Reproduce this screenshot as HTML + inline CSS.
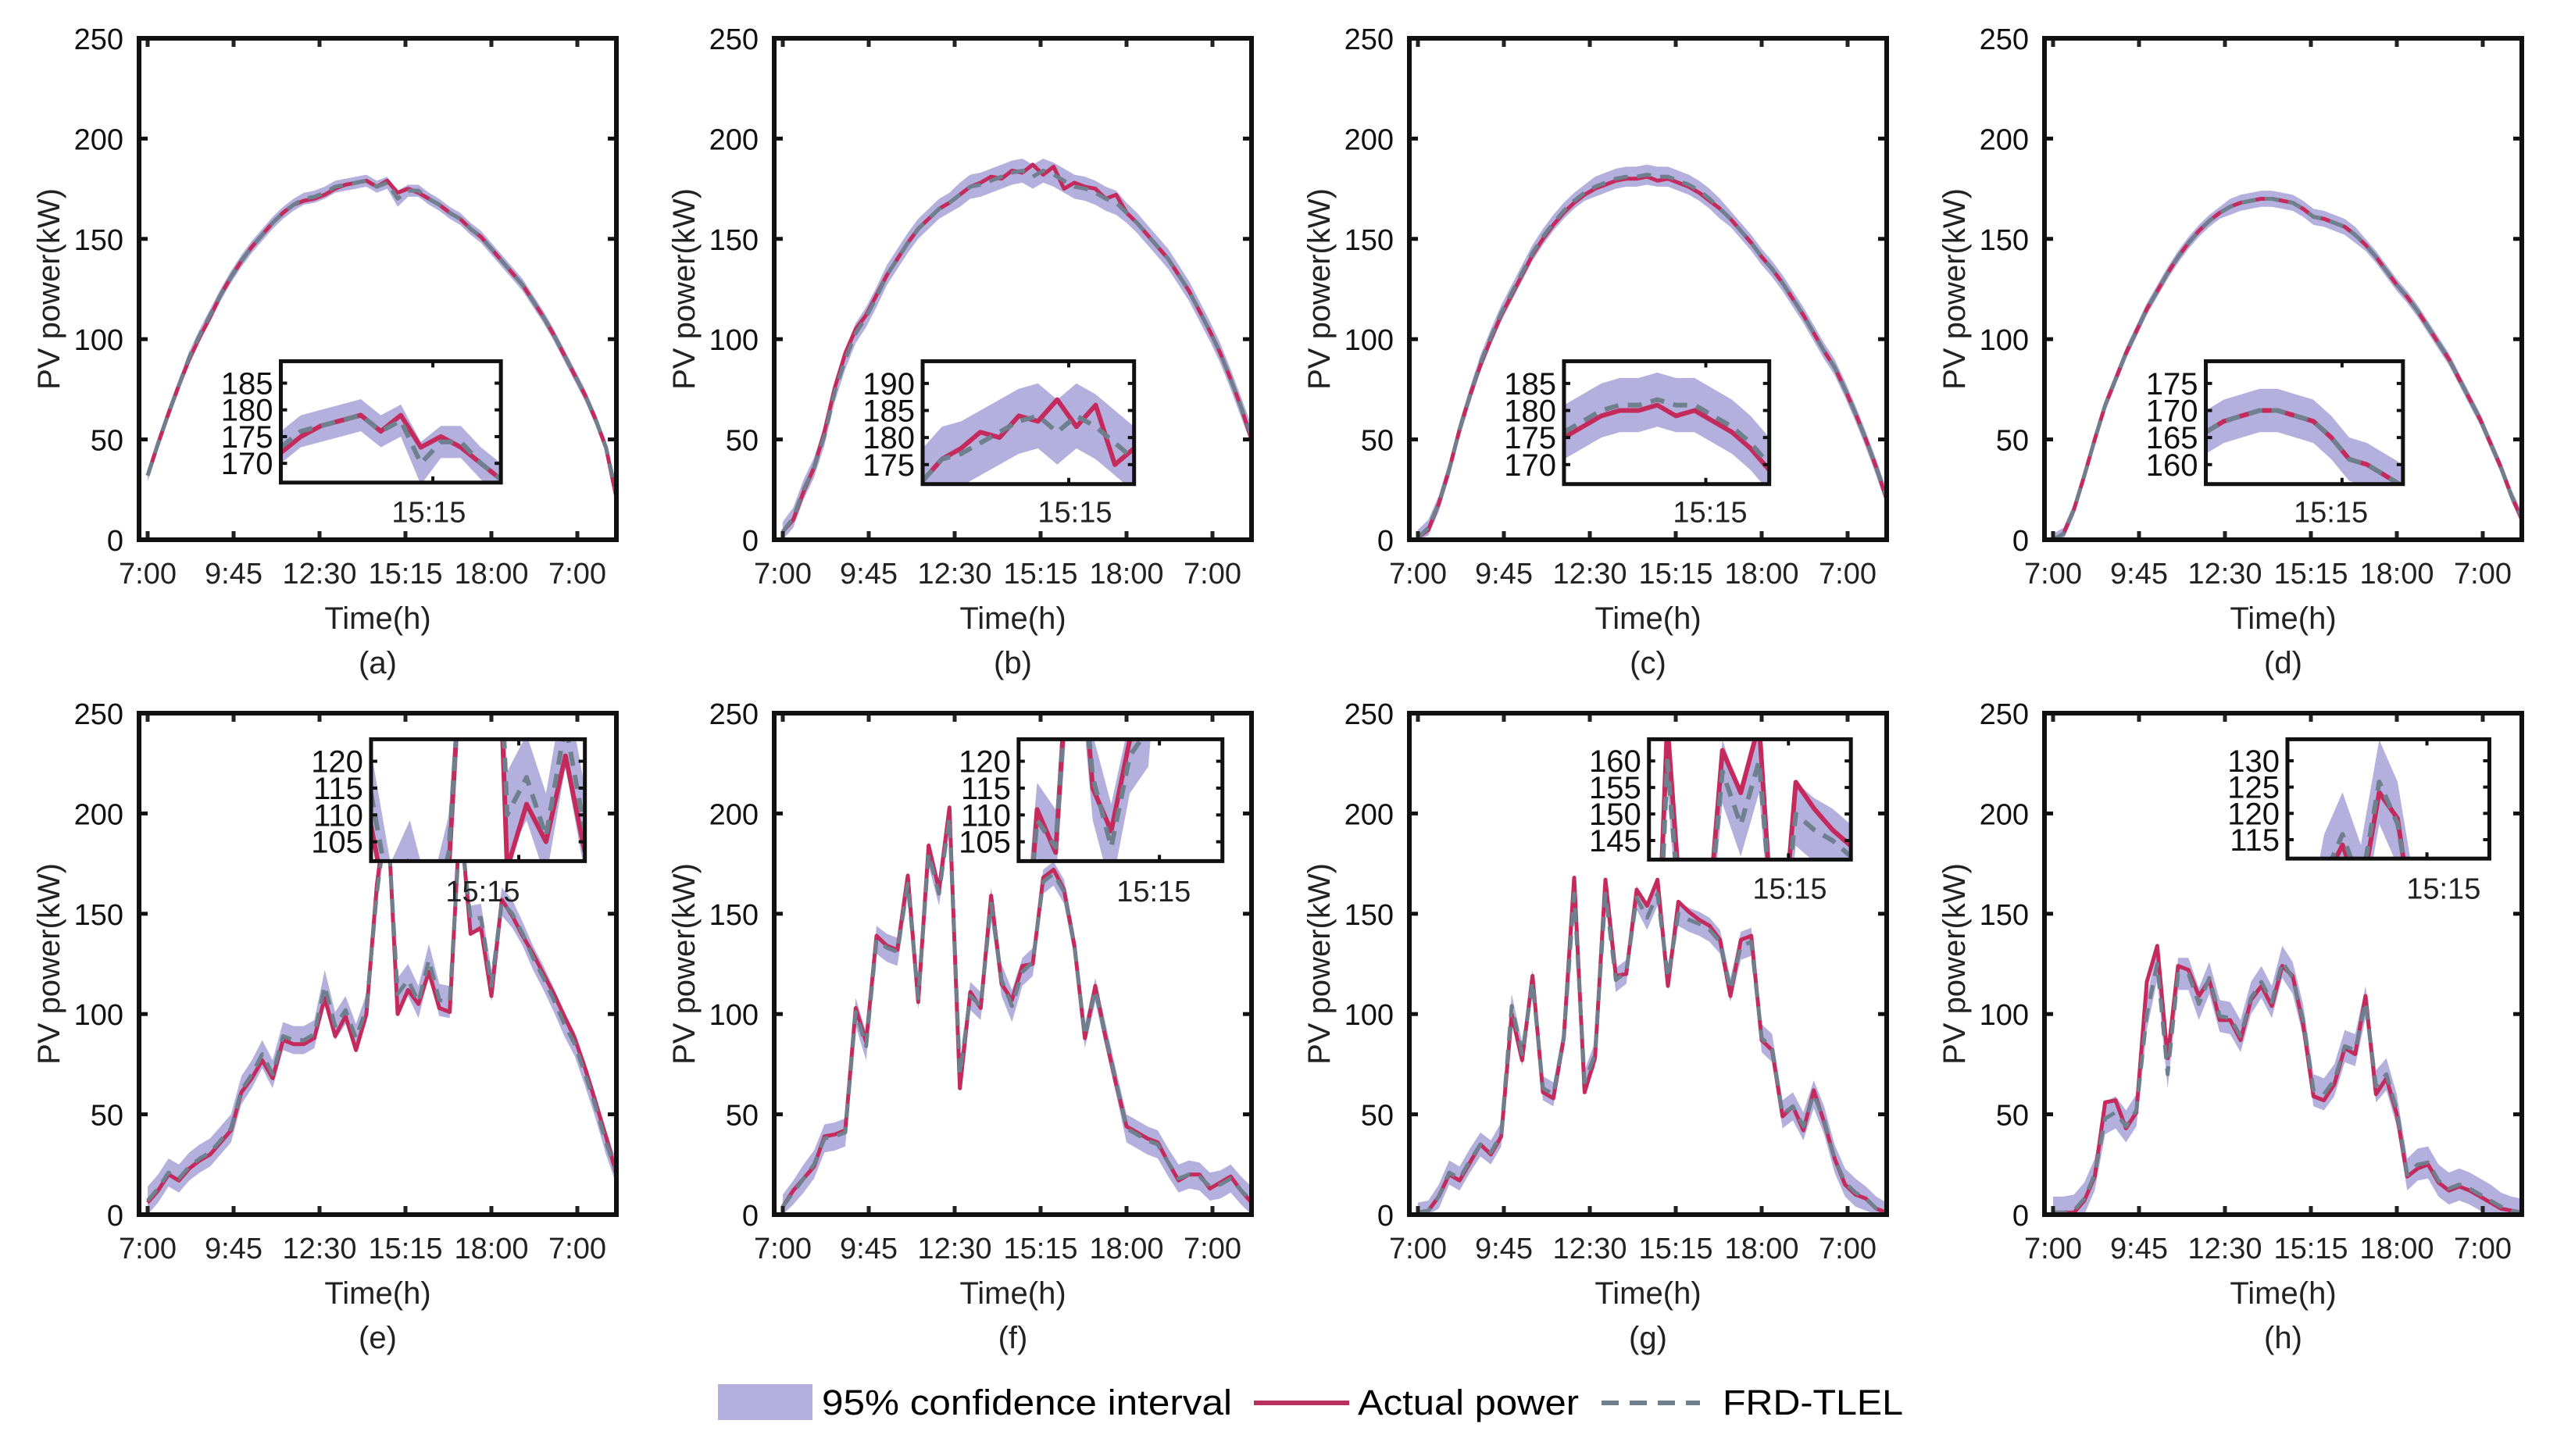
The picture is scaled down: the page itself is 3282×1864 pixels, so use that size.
<!DOCTYPE html>
<html><head><meta charset="utf-8"><style>
html,body{margin:0;padding:0;background:#fff;}
svg{display:block;font-family:"Liberation Sans",Arial,sans-serif;}
</style></head><body>
<svg id="fig" width="3282" height="1864" viewBox="0 0 3282 1864" xmlns="http://www.w3.org/2000/svg">
<rect width="3282" height="1864" fill="#fff"/>
<defs id="defs"></defs>
<g id="panels"></g>
<g id="legend">
  <rect x="919" y="1772" width="121" height="46" fill="#b3b0dd"/>
  <text x="1052" y="1811" font-size="45" textLength="525" lengthAdjust="spacingAndGlyphs">95% confidence interval</text>
  <line x1="1605" y1="1796" x2="1727" y2="1796" stroke="#b8305e" stroke-width="6"/>
  <text x="1738" y="1811" font-size="45" textLength="283" lengthAdjust="spacingAndGlyphs">Actual power</text>
  <line x1="2050" y1="1796" x2="2176" y2="1796" stroke="#6e7f8d" stroke-width="6" stroke-dasharray="22 14"/>
  <text x="2205" y="1811" font-size="45" textLength="231" lengthAdjust="spacingAndGlyphs">FRD-TLEL</text>
</g>
</svg>
<script>
const tickLabels = ["7:00","9:45","12:30","15:15","18:00","7:00"];
const yTicks = [0,50,100,150,200,250];
const panelLetters = ["a","b","c","d","e","f","g","h"];
const actualA = [32,48,63,77,90,101,111,122,131,139,146,152,158,163,167,169,170,172,175,177,178,179,176,179,173,175,173,170,167,163,160,155,151,145,139,133,127,119,111,102,92,82,72,60,46,21];
const predA = [32,48,63,77,91,102,112,122,131,139,146,152,158,163,167,170,171,173,176,177,178,179,176,178,170,174,174,170,167,163,160,155,151,145,139,133,127,119,111,102,92,82,72,60,46,23];
const ciA = [3,3,3,3,3,3,3,3,3,3,3,3,3,3,3,3,3,3,3,3,3,3,3,3,4,3,3,3,3,3,3,3,3,3,3,3,3,3,3,3,3,3,3,3,3,3];
const actualB = [4,10,24,36,54,76,93,105,112,122,132,140,148,155,160,165,168,172,176,178,181,180,184,183,187,182,186,175,178,176,175,170,172,163,158,152,146,140,132,124,114,104,93,80,66,50];
const predB = [4,11,25,36,52,74,90,103,111,121,132,140,148,155,160,165,168,172,176,177,179,181,183,184,181,184,182,179,176,175,173,170,168,163,158,152,146,140,132,124,114,104,93,80,66,52];
const ciB = [5,5,5,5,5,5,5,5,5,5,5,5,5,5,5,5,5,6,6,6,6,6,6,6,6,6,6,6,6,6,6,6,6,5,5,5,5,5,5,5,5,5,5,5,5,5];
const actualC = [1,5,18,35,55,72,87,100,112,122,132,142,150,157,163,168,172,175,177,179,180,180,181,179,180,178,176,173,169,165,160,154,148,141,135,128,120,112,103,94,86,75,63,50,36,20];
const predC = [1,6,18,35,55,72,88,101,113,123,133,143,151,158,164,169,173,176,178,180,181,181,182,181,181,179,177,174,170,165,160,154,148,141,135,128,120,112,103,94,86,75,63,50,36,21];
const ciC = [4,4,4,4,4,4,4,4,4,4,4,4,4,4,4,4,4,5,5,5,5,5,5,5,5,5,5,5,5,5,4,4,4,4,4,4,4,4,4,4,4,4,4,4,4,4];
const actualD = [0,3,15,32,50,67,80,93,104,115,124,133,141,148,154,159,163,166,168,169,170,170,169,168,165,161,160,158,156,152,147,141,134,127,121,114,106,98,90,80,70,60,48,36,22,10];
const predD = [0,3,15,32,50,67,80,93,104,115,124,133,141,148,154,159,163,166,168,169,170,170,169,168,165,161,160,158,156,152,147,141,134,127,121,114,106,98,90,80,70,60,48,36,22,11];
const ciD = [3,3,3,3,3,3,3,3,3,3,3,3,3,3,3,3,3,4,4,4,4,4,4,4,4,4,4,4,4,4,3,3,3,3,3,3,3,3,3,3,3,3,3,3,3,3];
const actualE = [6,12,20,17,23,27,30,36,42,61,68,77,68,87,85,85,88,108,89,99,82,100,164,205,100,112,105,121,103,101,200,140,143,109,157,149,139,130,120,110,99,88,73,56,39,20];
const predE = [7,13,21,18,24,28,31,37,43,62,70,80,70,89,87,87,90,114,94,102,88,103,160,200,110,117,106,127,107,106,195,147,148,114,156,150,140,128,118,107,95,85,70,54,36,21];
const ciE = [7,7,7,7,7,7,7,7,7,7,7,7,7,7,7,7,7,8,7,7,7,7,7,7,8,8,8,8,8,8,7,7,7,8,7,7,6,6,6,6,6,6,6,6,6,6];
const actualF = [4,12,18,24,39,40,42,103,86,139,134,132,169,106,184,162,203,63,111,103,159,115,107,124,125,168,172,162,134,88,114,88,65,44,41,38,36,26,17,20,20,13,16,19,12,6];
const predF = [4,11,18,25,38,39,41,101,84,137,133,131,165,108,180,160,198,70,109,104,155,117,104,121,126,166,170,161,134,89,112,89,66,43,40,37,35,26,18,20,19,14,15,18,12,7];
const ciF = [6,6,7,7,7,7,7,7,7,7,7,7,6,6,6,6,6,7,7,7,8,8,8,7,7,6,6,6,6,6,6,6,6,7,7,7,7,7,7,7,7,7,7,7,7,7];
const actualG = [1,2,9,20,17,26,35,30,39,100,77,119,61,58,88,168,61,78,167,119,120,162,154,167,114,156,151,147,144,137,109,137,139,87,82,49,54,42,62,46,28,15,10,8,3,1];
const predG = [1,2,9,21,18,27,35,31,40,104,80,116,63,60,88,160,66,80,160,117,121,158,148,160,118,150,147,145,142,136,112,134,136,88,83,50,54,44,60,47,28,16,11,8,3,1];
const ciG = [5,5,6,6,6,6,6,6,6,6,6,6,6,6,6,5,6,6,5,6,6,6,6,6,6,6,6,6,6,6,6,7,7,7,7,7,7,7,7,7,7,7,7,6,6,5];
const actualH = [1,1,1,7,19,56,57,43,51,116,134,78,124,122,109,117,97,97,87,107,114,104,124,119,95,59,57,65,83,80,109,60,68,50,19,23,25,16,12,14,12,9,6,3,2,1];
const predH = [1,1,2,8,20,48,51,44,52,100,125,70,120,120,105,118,99,98,89,108,116,106,126,118,97,62,60,67,84,82,106,64,70,52,20,25,26,17,13,15,13,10,7,4,2,1];
const ciH = [8,8,8,8,8,8,8,8,8,8,8,7,8,8,8,8,8,8,8,8,8,8,8,8,8,8,8,8,8,8,8,8,8,8,8,8,8,8,8,8,8,8,8,7,7,7];
const insetLabelsA = [185,180,175,170];
const insetLabelsB = [190,185,180,175];
const insetLabelsC = [185,180,175,170];
const insetLabelsD = [175,170,165,160];
const insetLabelsE = [120,115,110,105];
const insetLabelsF = [120,115,110,105];
const insetLabelsG = [160,155,150,145];
const insetLabelsH = [130,125,120,115];

const NS = "http://www.w3.org/2000/svg";
const colsX = [178, 991, 1804, 2617];
const rowsY = [49, 913];
const PW = 611, PH = 642;
const actuals = [actualA,actualB,actualC,actualD,actualE,actualF,actualG,actualH];
const preds = [predA,predB,predC,predD,predE,predF,predG,predH];
const cis = [ciA,ciB,ciC,ciD,ciE,ciF,ciG,ciH];
const insetLabels = [insetLabelsA,insetLabelsB,insetLabelsC,insetLabelsD,insetLabelsE,insetLabelsF,insetLabelsG,insetLabelsH];
const insetBox = [[0.297,0.758,0.644,0.886],[0.311,0.754,0.644,0.889],[0.324,0.754,0.644,0.889],[0.338,0.751,0.644,0.889],
                  [0.486,0.934,0.052,0.295],[0.512,0.939,0.052,0.295],[0.502,0.925,0.052,0.292],[0.509,0.932,0.052,0.290]];
const insetLab = [[0.607,0.965],[0.63,0.965],[0.63,0.965],[0.60,0.965],[0.72,0.375],[0.795,0.375],[0.797,0.37],[0.836,0.37]];

function mk(tag, attrs, parent){ const e=document.createElementNS(NS,tag); for(const k in attrs) e.setAttribute(k,attrs[k]); if(parent) parent.appendChild(e); return e; }

const root = document.getElementById("panels");
const defs = document.getElementById("defs");

function drawSeries(g, act, pred, ci, xf, yf, k0, k1, lw){
  let up=[], lo=[];
  for(let k=k0;k<=k1;k++){ up.push(xf(k)+","+yf(pred[k]+ci[k])); }
  for(let k=k1;k>=k0;k--){ lo.push(xf(k)+","+yf(Math.max(0,pred[k]-ci[k]))); }
  const band = mk("polygon",{points:up.concat(lo).join(" "),fill:"#b3b0dd",stroke:"none"},g);
  
  
  let pa=[], pp=[];
  for(let k=k0;k<=k1;k++){ pa.push(xf(k)+","+yf(act[k])); pp.push(xf(k)+","+yf(pred[k])); }
  const la = mk("polyline",{points:pa.join(" "),fill:"none",stroke:"#c42a5c","stroke-width":lw,"stroke-linejoin":"round"},g);
  
  
  const lp = mk("polyline",{points:pp.join(" "),fill:"none",stroke:"#6e7f8d","stroke-width":lw,"stroke-dasharray":"18 12","stroke-linejoin":"round"},g);
  
  
}

for(let p=0;p<8;p++){
  const x0 = colsX[p%4], y0 = rowsY[Math.floor(p/4)];
  const g = mk("g",{},root);
  
  
  const n = actuals[p].length;
  const xf = k => x0 + 11 + k*(PW-11)/(n-1);
  const yf = v => y0 + PH - v*PH/250;
  const cid = "clip"+p;
  const cp = mk("clipPath",{id:cid},defs);
  mk("rect",{x:x0,y:y0,width:PW,height:PH},cp);
  const sg = mk("g",{"clip-path":"url(#"+cid+")"},g);
  drawSeries(sg, actuals[p], preds[p], cis[p], xf, yf, 0, n-1, 5);
  for(let j=0;j<tickLabels.length;j++){
    const tx = x0 + 11 + j*110;
    mk("line",{x1:tx,y1:y0+PH,x2:tx,y2:y0+PH-11,stroke:"#222","stroke-width":5},g);
    mk("line",{x1:tx,y1:y0,x2:tx,y2:y0+11,stroke:"#222","stroke-width":5},g);
    const t = mk("text",{x:tx,y:y0+PH+56,"font-size":38,"text-anchor":"middle",fill:"#222"},g);
    t.textContent = tickLabels[j];
    
    
  }
  for(const v of yTicks){
    const ty = yf(v);
    mk("line",{x1:x0,y1:ty,x2:x0+11,y2:ty,stroke:"#111","stroke-width":5},g);
    mk("line",{x1:x0+PW,y1:ty,x2:x0+PW-11,y2:ty,stroke:"#111","stroke-width":5},g);
    const t = mk("text",{x:x0-20,y:ty+14,"font-size":38,"text-anchor":"end",fill:"#111"},g);
    t.textContent = v;
    
    
  }
  const box = mk("rect",{x:x0,y:y0,width:PW,height:PH,fill:"none",stroke:"#111","stroke-width":6},g);
  
  
  const yt = mk("text",{x:0,y:0,"font-size":40,"text-anchor":"middle",fill:"#222",transform:"translate("+(x0-102)+","+(y0+PH/2)+") rotate(-90)"},g);
  yt.textContent = "PV power(kW)";
  
  
  const xt = mk("text",{x:x0+PW/2,y:y0+PH+114,"font-size":40,"text-anchor":"middle",fill:"#222"},g);
  xt.textContent = "Time(h)";
  
  
  const cap = mk("text",{x:x0+PW/2,y:y0+PH+171,"font-size":40,"text-anchor":"middle",fill:"#222"},g);
  cap.textContent = "("+panelLetters[p]+")";
  
  

  const ib = insetBox[p];
  const ix0 = x0+ib[0]*PW, ix1 = x0+ib[1]*PW, iy0 = y0+ib[2]*PH, iy1 = y0+ib[3]*PH;
  const iw = ix1-ix0, ih = iy1-iy0;
  const labs = insetLabels[p];
  const ymax = labs[0]+4.1, ymin = ymax-22.7;
  const ka = 17, kb = 28;
  const ixf = k => ix0 + (k-ka)*iw/(kb-ka);
  const iyf = v => iy0 + (ymax-v)*ih/(ymax-ymin);
  const ig = mk("g",{},g);
  
  
  mk("rect",{x:ix0,y:iy0,width:iw,height:ih,fill:"#fff"},ig);
  const icid = "iclip"+p;
  const icp = mk("clipPath",{id:icid},defs);
  mk("rect",{x:ix0,y:iy0,width:iw,height:ih},icp);
  const isg = mk("g",{"clip-path":"url(#"+icid+")"},ig);
  drawSeries(isg, actuals[p], preds[p], cis[p], ixf, iyf, ka, kb, 6);
  for(const v of labs){
    const ty = iyf(v);
    mk("line",{x1:ix0,y1:ty,x2:ix0+8,y2:ty,stroke:"#111","stroke-width":4},ig);
    mk("line",{x1:ix1,y1:ty,x2:ix1-8,y2:ty,stroke:"#111","stroke-width":4},ig);
    const t = mk("text",{x:ix0-10,y:ty+14,"font-size":40,"text-anchor":"end",fill:"#111"},ig);
    t.textContent = v;
    
    
  }
  const itx = ixf(24.6);
  mk("line",{x1:itx,y1:iy0,x2:itx,y2:iy0+8,stroke:"#111","stroke-width":4},ig);
  mk("line",{x1:itx,y1:iy1,x2:itx,y2:iy1-8,stroke:"#111","stroke-width":4},ig);
  mk("rect",{x:ix0,y:iy0,width:iw,height:ih,fill:"none",stroke:"#111","stroke-width":5},ig);
  const il = mk("text",{x:x0+insetLab[p][0]*PW,y:y0+insetLab[p][1]*PH,"font-size":38,"text-anchor":"middle",fill:"#222"},ig);
  il.textContent = "15:15";
  
  
}
</script>
</body></html>
